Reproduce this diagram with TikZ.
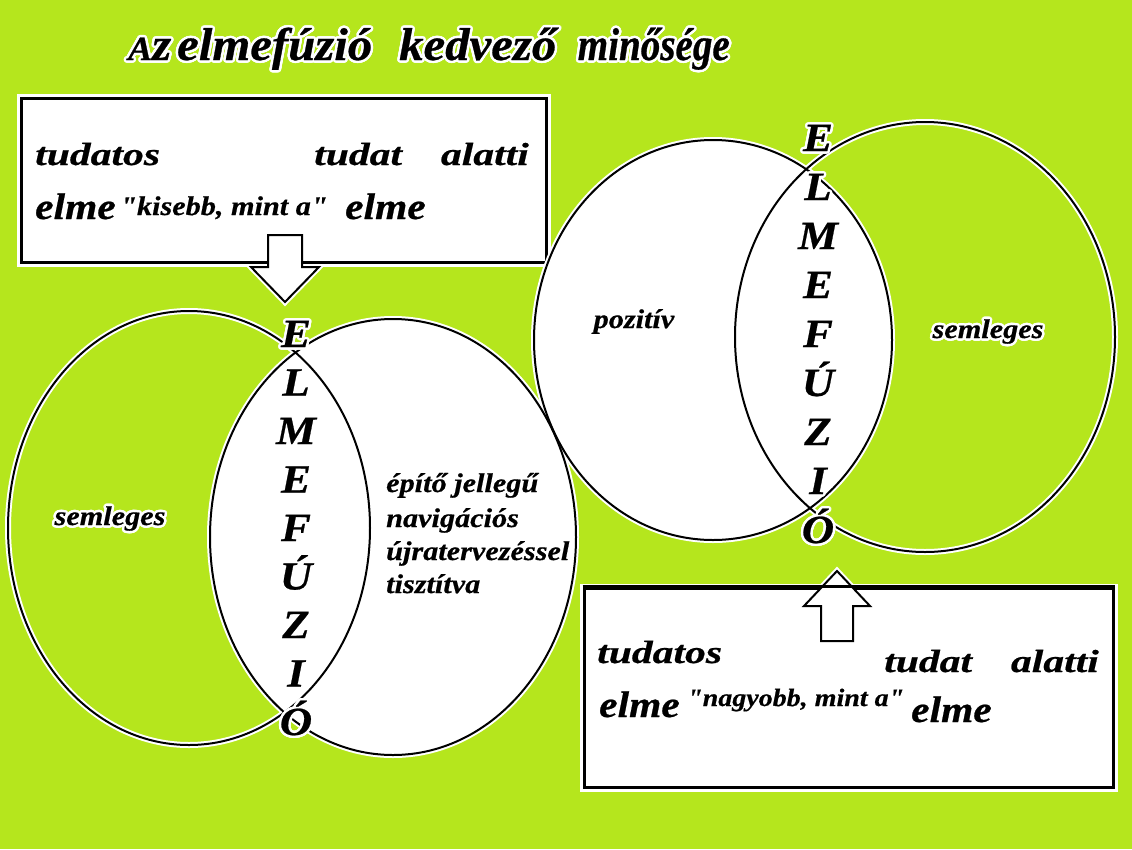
\documentclass[tikz,border=0pt]{standalone}
\usepackage{fontspec}
\usepackage{xcolor}
\usepackage{contour}
\usepackage{tikz}
\setmainfont{Liberation Serif}
\newfontfamily\cimfont[FakeStretch=1.06,FakeBold=0.6]{Liberation Serif}
\newfontfamily\szukfont[FakeStretch=0.85,FakeBold=0.6]{Liberation Serif}
\newfontfamily\tudatfont[FakeStretch=1.3,FakeBold=0.6]{Liberation Serif}
\newfontfamily\elmefont[FakeStretch=1.12,FakeBold=0.6]{Liberation Serif}
\definecolor{hatter}{RGB}{181,230,29}
\contourlength{2.5pt}

\tikzset{
	keret/.style={draw, fill=white, line width=3pt, inner sep=0pt},
	keretperem/.style={draw=white, line width=9pt},
	nyil/.style={draw, fill=white, line width=2pt, line join=miter},
	perem/.style={draw=white, line width=6pt},
	vonal/.style={draw=black, line width=2pt},
	cim/.style={font=\cimfont\bfseries\itshape\fontsize{46}{46}\selectfont, anchor=base west, inner sep=0pt},
	betu/.style={font=\elmefont\bfseries\itshape\fontsize{40}{40}\selectfont, anchor=base, inner sep=0pt},
	tudat/.style={font=\tudatfont\bfseries\itshape\fontsize{32}{32}\selectfont, anchor=base west, inner sep=0pt},
	elme/.style={font=\elmefont\bfseries\itshape\fontsize{37}{37}\selectfont, anchor=base west, inner sep=0pt},
	kicsi/.style={font=\elmefont\bfseries\itshape\fontsize{#1}{#1}\selectfont, anchor=base west, inner sep=0pt},
	cimke/.style={font=\elmefont\bfseries\itshape\fontsize{27}{27}\selectfont, anchor=base, inner sep=0pt}
}

\begin{document}
\begin{tikzpicture}[x=1pt,y=-1pt]
			\fill[hatter] (0,0) rectangle (1132,849);
			
			\coordinate (bal1) at (189,528);
			\coordinate (bal2) at (393,537);
			\coordinate (jobb1) at (713,340);
			\coordinate (jobb2) at (925,337);
			
			% felso doboz es nyil
			\draw[perem] (268,235) -- (302,235) -- (302,267) -- (319,267) -- (285,302) -- (251,267) -- (268,267) -- cycle;
			\node[keret, preaction={keretperem}, minimum width=525pt, minimum height=164pt] (doboz1) at (283.5,180) {};
			\draw[nyil] (268,235) -- (302,235) -- (302,267) -- (319,267) -- (285,302) -- (251,267) -- (268,267) -- cycle;
			
			% ellipszisek
			\draw[perem] (bal1) ellipse [x radius=181, y radius=217];
			\draw[perem] (bal2) ellipse [x radius=183, y radius=218];
			\draw[perem] (jobb1) ellipse [x radius=179, y radius=200];
			\draw[perem] (jobb2) ellipse [x radius=190, y radius=215];
			\fill[white] (bal2) ellipse [x radius=183, y radius=218];
			\fill[white] (jobb1) ellipse [x radius=179, y radius=200];
			\draw[vonal] (bal1) ellipse [x radius=181, y radius=217];
			\draw[vonal] (bal2) ellipse [x radius=183, y radius=218];
			\draw[vonal] (jobb1) ellipse [x radius=179, y radius=200];
			\draw[vonal] (jobb2) ellipse [x radius=190, y radius=215];
			
			% also doboz es nyil
			\draw[perem] (821,641) -- (853,641) -- (853,606) -- (870,606) -- (837,571) -- (804,606) -- (821,606) -- cycle;
			\node[keret, preaction={keretperem}, minimum width=529pt, minimum height=199pt] (doboz2) at (848.5,687.5) {};
			\draw[nyil] (821,641) -- (853,641) -- (853,606) -- (870,606) -- (837,571) -- (804,606) -- (821,606) -- cycle;
			\draw[line width=3pt] (doboz2.north west) -- (doboz2.north east);
			
			% cim
			\node[cim] (cim1) at (128,60) {\contour{white}{{\fontsize{34}{34}\selectfont A}z}};
			\node[cim] (cim2) at (177,60) {\contour{white}{elmefúzió}};
			\node[cim] (cim3) at (399,60) {\contour{white}{kedvező}};
			\node[cim, font=\szukfont\bfseries\itshape\fontsize{46}{46}\selectfont, anchor=base east] (cim4) at (730,60) {\contour{white}{minősége}};
			
			% ELMEFUZIO betuk
			\foreach \b [count=\i from 0] in {E,L,M,E,F,Ú,Z,I,Ó}
				\node[betu] (bf\i) at (296,347+48.5*\i) {\contour{white}{\b}};
			\foreach \b [count=\i from 0] in {E,L,M,E,F,Ú,Z,I,Ó}
				\node[betu] (jf\i) at (818,151+49*\i) {\contour{white}{\b}};
			
			% felso doboz szovegei
			\node[tudat] (t1) at (35,165) {tudatos};
			\node[tudat] (t2) at (314,165) {tudat};
			\node[tudat, anchor=base east] (t3) at (529,165) {alatti};
			\node[elme] (e1) at (35,219) {elme};
			\node[kicsi=27] (k1) at (120,215) {"kisebb, mint a"};
			\node[elme] (e2) at (345,219) {elme};
			
			% also doboz szovegei
			\node[tudat] (t4) at (597,663) {tudatos};
			\node[tudat] (t5) at (884,672) {tudat};
			\node[tudat, anchor=base east] (t6) at (1099,672) {alatti};
			\node[elme] (e3) at (599,717) {elme};
			\node[kicsi=25] (k2) at (687,706) {"nagyobb, mint a"};
			\node[elme] (e4) at (911,722) {elme};
			
			% cimkek
			\node[cimke] (sem1) at (110,525) {\contour{white}{semleges}};
			\node[cimke, anchor=base west] (ep1) at (386,492) {építő jellegű};
			\node[cimke, anchor=base west] (ep2) at (386,527) {navigációs};
			\node[cimke, anchor=base west] (ep3) at (386,560) {újratervezéssel};
			\node[cimke, anchor=base west] (ep4) at (386,593) {tisztítva};
			\node[cimke] (poz) at (634,328) {pozitív};
			\node[cimke] (sem2) at (988,338) {\contour{white}{semleges}};
		\end{tikzpicture}
\end{document}
